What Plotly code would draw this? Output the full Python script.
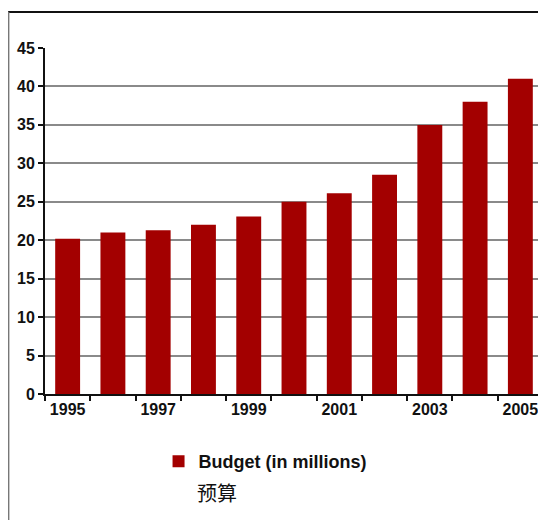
import plotly.graph_objects as go

years = [1995, 1996, 1997, 1998, 1999, 2000, 2001, 2002, 2003, 2004, 2005]
budget = [20.2, 21.0, 21.3, 22.0, 23.1, 25.0, 26.1, 28.5, 35.0, 38.0, 41.0]
x_tick_years = [1995, 1997, 1999, 2001, 2003, 2005]
y_ticks = [0, 5, 10, 15, 20, 25, 30, 35, 40, 45]
y_grid = [5, 10, 15, 20, 25, 30, 35, 40]
series_name = "Budget (in millions)"
series_subtitle = "预算"

tick_font = dict(family="Liberation Sans, Arial, sans-serif",
                 size=16, color="#111111", weight="bold")

fig = go.Figure()
fig.add_trace(go.Bar(x=years, y=budget, name=series_name, width=0.55,
                     marker=dict(color="#a30000", line=dict(width=0))))

fig.update_layout(
    width=538, height=512,
    margin=dict(l=37, r=3, t=40, b=126),
    paper_bgcolor="white", plot_bgcolor="white",
    showlegend=True,
    legend=dict(orientation="h", x=0.228, xanchor="left", y=-0.142, yanchor="top",
                font=dict(family="Liberation Sans, Arial, sans-serif", size=18,
                          color="#111111", weight="bold"),
                bgcolor="rgba(0,0,0,0)"),
    xaxis=dict(range=[1994.5, 2005.5], tickvals=x_tick_years,
               ticktext=[str(v) for v in x_tick_years],
               ticks="", showgrid=False, zeroline=False,
               showline=True, linecolor="#111111", linewidth=2,
               tickfont=tick_font,
               minor=dict(tick0=1994.5, dtick=1, ticks="outside", ticklen=5,
                          tickwidth=1.5, tickcolor="#111111", showgrid=False)),
    yaxis=dict(range=[0, 45], tickvals=y_ticks, ticks="outside", ticklen=5,
               tickwidth=1.5, tickcolor="#111111",
               showgrid=False, zeroline=False,
               showline=True, linecolor="#111111", linewidth=2,
               tickfont=tick_font),
    yaxis2=dict(range=[0, 45], overlaying="y", side="left", tickvals=y_grid,
                showticklabels=False, ticks="", showgrid=True,
                gridcolor="#8a8a8a", gridwidth=1.5, zeroline=False, showline=False,
                layer="below traces"),
    shapes=[
        dict(type="line", xref="paper", yref="paper", x0=-0.074, x1=1.01,
             y0=(394 - 12) / 346, y1=(394 - 12) / 346,
             line=dict(color="#111111", width=2)),
        dict(type="line", xref="paper", yref="paper", x0=-0.074, x1=-0.074,
             y0=(394 - 12) / 346, y1=-0.4,
             line=dict(color="#777777", width=2.5)),
    ],
    annotations=[
        dict(text=series_subtitle, xref="paper", yref="paper",
             x=(195 - 45) / 498, y=(394 - 492) / 346, xanchor="left", yanchor="middle",
             showarrow=False,
             font=dict(family="Noto Sans CJK SC, sans-serif", size=20, color="#111111")),
    ],
)
# invisible helper so the grid-only overlay axis is drawn
fig.add_trace(go.Scatter(x=[years[0]], y=[0], yaxis="y2", mode="markers",
                         marker=dict(opacity=0), showlegend=False, hoverinfo="skip"))

fig.write_html("out.html")
